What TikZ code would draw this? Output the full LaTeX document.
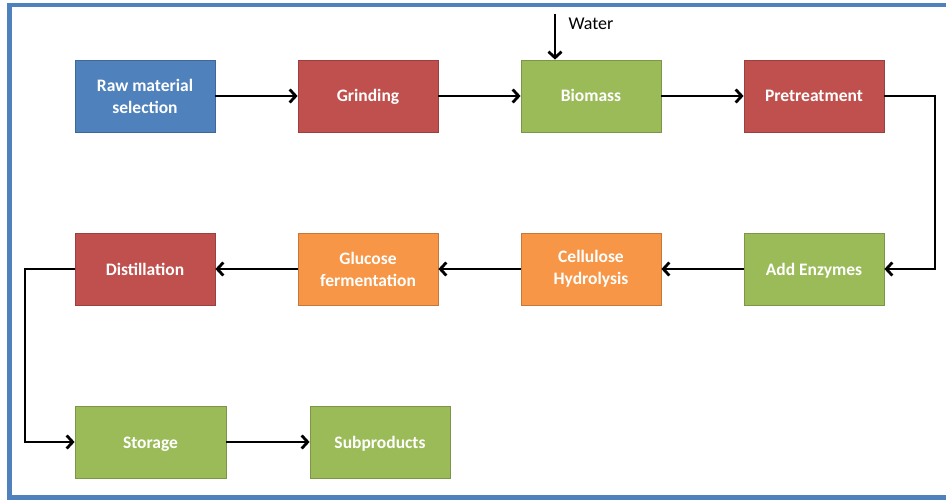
\documentclass[tikz,border=0pt]{standalone}
\usepackage{fontspec}
\setmainfont{Carlito}
\usetikzlibrary{arrows.meta,positioning}
\definecolor{bluebox}{HTML}{4F81BD}
\definecolor{redbox}{HTML}{C0504D}
\definecolor{greenbox}{HTML}{9BBB59}
\definecolor{orangebox}{HTML}{F79646}
\tikzset{
  stage/.style={draw=#1!80!black, fill=#1, line width=0.8pt, minimum width=140pt,
    minimum height=72pt, align=center, text=white, font=\bfseries\fontsize{17.5}{22}\selectfont},
  oneline/.style={text height=14pt, text depth=2pt},
  flow/.style={line width=2.8pt, -{Straight Barb[length=6pt,width=13pt,line width=2.8pt]}}
}

\begin{document}
\begin{tikzpicture}[x=1pt,y=-1pt]
    \useasboundingbox (0,0) rectangle (946,500);
    \begin{scope}
      \clip (0,0) rectangle (946,500);
      \draw[bluebox, line width=4.5pt] (9.5,5) rectangle (980,497.5);
    \end{scope}

    \node[stage=bluebox](raw) at (145,96) {Raw material\\selection};
    \node[stage=redbox,oneline](grind) at (368,96) {Grinding};
    \node[stage=greenbox,oneline](bio) at (591,96) {Biomass};
    \node[stage=redbox,oneline](pre) at (814,96) {Pretreatment};
    \node[stage=greenbox,oneline](enz) at (814,269) {Add Enzymes};
    \node[stage=orangebox](hyd) at (591,269) {Cellulose\\Hydrolysis};
    \node[stage=orangebox](ferm) at (368,269) {Glucose\\fermentation};
    \node[stage=redbox,oneline](dist) at (145,269) {Distillation};
    \node[stage=greenbox,oneline,minimum width=151pt](store) at (150.5,442) {Storage};
    \node[stage=greenbox,oneline](sub) at (380,442) {Subproducts};

    \coordinate(wat) at (555,14);
    \node[anchor=west, font=\fontsize{18}{22}\selectfont](watlbl) at (565,24) {Water};

    \begin{scope}[flow]
      \draw (wat) -- (bio.north -| wat);
      \draw (raw) edge (grind) (grind) edge (bio) (bio) edge (pre);
      \draw (pre.east) -| (935,180) |- (enz.east);
      \draw (enz) edge (hyd) (hyd) edge (ferm) (ferm) edge (dist);
      \draw (dist.west) -| (25,350) |- (store.west);
      \draw (store) -- (sub);
    \end{scope}
  \end{tikzpicture}
\end{document}
